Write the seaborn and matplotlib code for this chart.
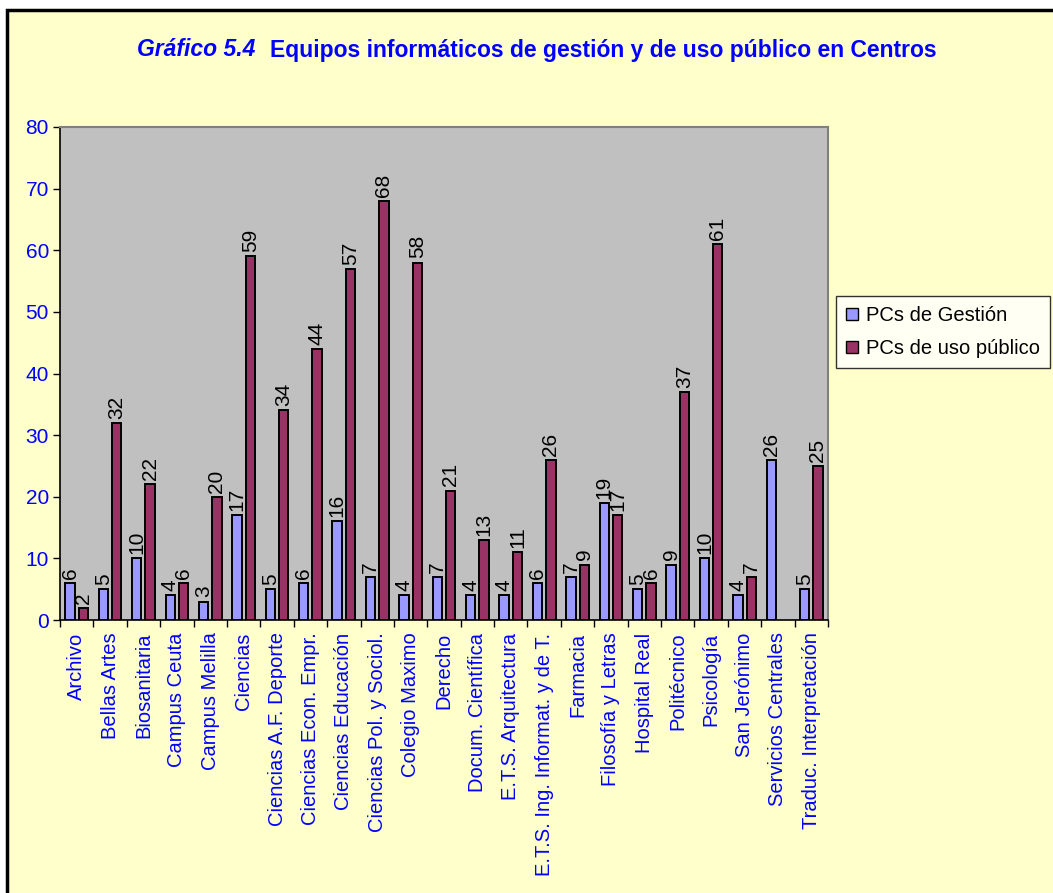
import numpy as np
import pandas as pd
import matplotlib
matplotlib.use("Agg")
import matplotlib.pyplot as plt
import seaborn as sns
from matplotlib.patches import Rectangle
from matplotlib.ticker import FixedLocator, NullFormatter

centros = ["Archivo", "Bellas Artes", "Biosanitaria", "Campus Ceuta", "Campus Melilla",
           "Ciencias", "Ciencias A.F. Deporte", "Ciencias Econ. Empr.", "Ciencias Educación",
           "Ciencias Pol. y Sociol.", "Colegio Maximo", "Derecho", "Docum. Científica",
           "E.T.S. Arquitectura", "E.T.S. Ing. Informat. y de T.", "Farmacia",
           "Filosofía y Letras", "Hospital Real", "Politécnico", "Psicología",
           "San Jerónimo", "Servicios Centrales", "Traduc. Interpretación"]
pcs_gestion = [6, 5, 10, 4, 3, 17, 5, 6, 16, 7, 4, 7, 4, 4, 6, 7, 19, 5, 9, 10, 4, 26, 5]
pcs_publico = [2, 32, 22, 6, 20, 59, 34, 44, 57, 68, 58, 21, 13, 11, 26, 9, 17, 6, 37, 61, 7, None, 25]
series = ["PCs de Gestión", "PCs de uso público"]
colors = ["#9999FF", "#993366"]
yticks = [0, 10, 20, 30, 40, 50, 60, 70, 80]

rows = []
for c, g, p in zip(centros, pcs_gestion, pcs_publico):
    rows.append({"Centro": c, "Serie": series[0], "Valor": g})
    if p is not None:
        rows.append({"Centro": c, "Serie": series[1], "Valor": p})
df = pd.DataFrame(rows)

sns.set_theme(style="white")
plt.rcParams["font.family"] = ["Liberation Sans", "DejaVu Sans"]

W, H = 1053, 893
fig = plt.figure(figsize=(W / 100, H / 100), dpi=100)
fig.patch.set_facecolor("white")
# outer frame
frame = Rectangle((7 / W, -0.05), 1.1, 1 - 10 / H + 0.05, transform=fig.transFigure,
                  facecolor="#FFFFCC", edgecolor="black", linewidth=2.5, zorder=-10)
fig.add_artist(frame)

ax = fig.add_axes([60 / W, 1 - 620 / H, (828 - 60) / W, (620 - 127) / H])
ax.set_zorder(1)
ax.set_facecolor("#C0C0C0")

sns.barplot(data=df, x="Centro", y="Valor", hue="Serie", order=centros, hue_order=series,
            palette=colors, width=0.8, gap=0.3, edgecolor="black", linewidth=1.4,
            saturation=1, legend=False, ax=ax)

for cont in ax.containers:
    ax.bar_label(cont, fmt="%g", rotation=90, padding=3, fontsize=15, color="black")

ax.set_ylim(0, 80)
ax.set_xlim(-0.5, len(centros) - 0.5)
ax.set_yticks(yticks)
ax.set_yticklabels([str(t) for t in yticks], color="#0000FF", fontsize=15)
ax.tick_params(axis="y", left=True, length=5, width=1, color="black", pad=3)
ax.set_xticks(range(len(centros)))
ax.set_xticklabels(centros, rotation=90, color="#0000FF", fontsize=14.5, va="top")
ax.tick_params(axis="x", which="major", bottom=False, length=0, pad=9)
ax.xaxis.set_minor_locator(FixedLocator(np.arange(-0.5, len(centros) + 0.5, 1)))
ax.xaxis.set_minor_formatter(NullFormatter())
ax.tick_params(axis="x", which="minor", bottom=True, length=5, width=1, color="black")
ax.set_xlabel("")
ax.set_ylabel("")
ax.grid(False)
for s in ["left", "bottom"]:
    ax.spines[s].set_color("black")
    ax.spines[s].set_linewidth(1.2)
for s in ["top", "right"]:
    ax.spines[s].set_color("#808080")
    ax.spines[s].set_linewidth(1.5)

fig.text(137 / W, 1 - 50 / H, "Gráfico 5.4", ha="left", va="center", fontsize=16.5,
         fontweight="bold", fontstyle="italic", color="#0000FF")
fig.text(270 / W, 1 - 50 / H, "Equipos informáticos de gestión y de uso público en Centros",
         ha="left", va="center", fontsize=16.5, fontweight="bold", color="#0000FF")

handles = [Rectangle((0, 0), 1, 1, facecolor=c, edgecolor="black", linewidth=1) for c in colors]
leg = fig.legend(handles, series, loc="upper left", bbox_to_anchor=(836 / W, 1 - 296 / H),
                 frameon=True, fontsize=14.5, handlelength=0.6, handleheight=0.6,
                 handletextpad=0.4, borderpad=0.5, labelspacing=0.7, fancybox=False,
                 borderaxespad=0)
leg.get_frame().set_edgecolor("black")
leg.get_frame().set_facecolor("white")
leg.get_frame().set_linewidth(1)
for t in leg.get_texts():
    t.set_color("black")

fig.savefig("out.png", dpi=100, facecolor=fig.get_facecolor())
